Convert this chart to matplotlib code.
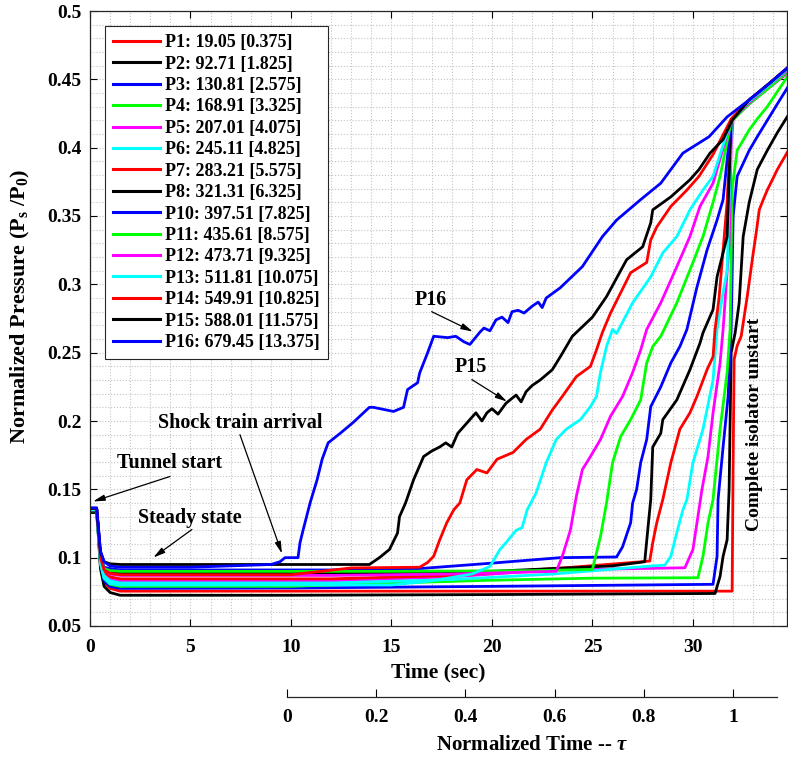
import matplotlib
matplotlib.use("Agg")
import matplotlib.pyplot as plt
from matplotlib.ticker import MultipleLocator

# Fonts: bold Times-like text everywhere, Times-like maths for the sub/greek bits
plt.rcParams['font.family'] = ['Liberation Serif', 'DejaVu Serif']
plt.rcParams['font.weight'] = 'bold'
plt.rcParams['axes.labelweight'] = 'bold'
plt.rcParams['mathtext.fontset'] = 'custom'
plt.rcParams['mathtext.rm'] = 'Liberation Serif'
plt.rcParams['mathtext.bf'] = 'Liberation Serif:bold'
plt.rcParams['mathtext.it'] = 'Liberation Serif:italic'

# ---- sensor traces: time (s) and normalized pressure Ps/P0 ----
labels = ["P1: 19.05 [0.375]", "P2: 92.71 [1.825]", "P3: 130.81 [2.575]",
          "P4: 168.91 [3.325]", "P5: 207.01 [4.075]", "P6: 245.11 [4.825]",
          "P7: 283.21 [5.575]", "P8: 321.31 [6.325]", "P10: 397.51 [7.825]",
          "P11: 435.61 [8.575]", "P12: 473.71 [9.325]", "P13: 511.81 [10.075]",
          "P14: 549.91 [10.825]", "P15: 588.01 [11.575]", "P16: 679.45 [13.375]"]
colors = ['#ff0000', '#000000', '#0000ff', '#00ff00', '#ff00ff', '#00ffff',
          '#ff0000', '#000000', '#0000ff', '#00ff00', '#ff00ff', '#00ffff',
          '#ff0000', '#000000', '#0000ff']

t_p1 = [0, 0.33, 0.42, 0.52, 0.7, 1.0, 1.5, 31.95, 32.0, 32.05, 32.2, 32.4, 32.7,
        33.0, 33.15, 33.3, 33.5, 33.7, 34.2, 34.75]
p_p1 = [0.135, 0.135, 0.118, 0.095, 0.082, 0.0775, 0.0755, 0.0755, 0.17, 0.245, 0.255,
        0.262, 0.291, 0.323, 0.338, 0.3545, 0.362, 0.369, 0.384, 0.398]

t_p2 = [0, 0.33, 0.42, 0.52, 0.7, 1.0, 1.5, 10, 20, 31.1, 31.35, 31.5, 31.7, 31.8,
        31.9, 32.1, 32.3, 32.5, 32.8, 33.2, 33.7, 34.2, 34.75]
p_p2 = [0.133, 0.133, 0.115, 0.092, 0.079, 0.0745, 0.0725, 0.0725, 0.073, 0.0738,
        0.0863, 0.101, 0.113, 0.15, 0.25, 0.2645, 0.2865, 0.335, 0.36, 0.384, 0.398,
        0.411, 0.424]

t_p3 = [0, 0.33, 0.42, 0.52, 0.7, 1.0, 1.5, 10, 20, 31.0, 31.2, 31.25, 31.5, 31.75,
        31.9, 32.0, 32.2, 32.8, 33.2, 33.7, 34.2, 34.75]
p_p3 = [0.135, 0.135, 0.117, 0.095, 0.083, 0.079, 0.0775, 0.0778, 0.079, 0.0805,
        0.101, 0.1425, 0.181, 0.218, 0.267, 0.35, 0.379, 0.398, 0.408, 0.42, 0.432,
        0.445]

t_p4 = [0, 0.33, 0.42, 0.52, 0.7, 1.0, 1.5, 10, 14, 20, 25, 30.25, 30.5, 30.75, 31.0,
        31.35, 31.7, 31.85, 31.95, 32.2, 32.8, 33.2, 33.7, 34.2, 34.75]
p_p4 = [0.134, 0.134, 0.117, 0.096, 0.085, 0.0805, 0.079, 0.079, 0.081, 0.0835, 0.085,
        0.0853, 0.101, 0.1255, 0.1425, 0.194, 0.2355, 0.267, 0.37, 0.398, 0.413, 0.421,
        0.43, 0.441, 0.453]

t_p5 = [0, 0.33, 0.42, 0.52, 0.7, 1.0, 1.5, 12, 18, 23, 29.6, 30.0, 30.2, 30.45,
        30.75, 31.0, 31.35, 31.5, 31.8, 31.9, 32.0, 32.8, 33.8, 34.75]
p_p5 = [0.135, 0.135, 0.119, 0.099, 0.088, 0.0845, 0.083, 0.083, 0.086, 0.091, 0.0926,
        0.106, 0.1255, 0.15, 0.174, 0.206, 0.2425, 0.267, 0.33, 0.40, 0.421, 0.432,
        0.444, 0.455]

t_p6 = [0, 0.33, 0.42, 0.52, 0.7, 1.0, 1.5, 12, 18, 23, 28.0, 28.6, 28.9, 29.2, 29.5,
        29.7, 30.0, 30.5, 31.0, 31.2, 31.45, 31.7, 31.9, 31.95, 32.8, 33.8, 34.75]
p_p6 = [0.135, 0.135, 0.119, 0.098, 0.087, 0.083, 0.0815, 0.0815, 0.084, 0.088, 0.094,
        0.0945, 0.101, 0.1185, 0.135, 0.1425, 0.1695, 0.194, 0.23, 0.267, 0.29, 0.31,
        0.41, 0.42, 0.433, 0.445, 0.457]

t_p7 = [0, 0.33, 0.42, 0.52, 0.7, 1.0, 1.5, 12, 18, 24, 27.85, 28.0, 28.2, 28.5, 28.9,
        29.35, 29.85, 30.2, 30.7, 31.0, 31.1, 31.3, 31.7, 31.9, 32.8, 33.8, 34.75]
p_p7 = [0.136, 0.136, 0.12, 0.1, 0.09, 0.086, 0.0845, 0.0845, 0.087, 0.093, 0.0975,
        0.111, 0.1255, 0.1425, 0.1695, 0.194, 0.206, 0.218, 0.2375, 0.247, 0.267,
        0.29, 0.36, 0.42, 0.434, 0.446, 0.458]

t_p8 = [0, 0.33, 0.42, 0.52, 0.7, 1.0, 1.5, 12, 20, 26, 27.6, 27.75, 27.9, 28.0, 28.4,
        28.5, 29.2, 29.85, 30.35, 30.5, 31.0, 31.2, 31.7, 31.9, 32.8, 33.8, 34.75]
p_p8 = [0.134, 0.134, 0.119, 0.1, 0.091, 0.0895, 0.0885, 0.0885, 0.09, 0.094, 0.097,
        0.12, 0.1425, 0.181, 0.191, 0.201, 0.2155, 0.2375, 0.257, 0.2645, 0.2815,
        0.3055, 0.335, 0.42, 0.434, 0.447, 0.458]

t_p10 = [0, 0.33, 0.42, 0.52, 0.7, 1.0, 1.5, 12, 16.4, 20, 23.4, 26.2, 26.5, 26.9,
         27.0, 27.2, 27.4, 27.7, 27.9, 28.4, 28.9, 29.35, 29.7, 30.2, 30.7, 31.2,
         31.5, 31.9, 32.8, 33.8, 34.75]
p_p10 = [0.136, 0.136, 0.12, 0.101, 0.093, 0.092, 0.091, 0.091, 0.092, 0.096, 0.1,
         0.1005, 0.108, 0.1255, 0.14, 0.15, 0.1695, 0.1865, 0.2105, 0.225, 0.2425,
         0.2545, 0.267, 0.298, 0.325, 0.347, 0.362, 0.42, 0.433, 0.445, 0.457]

t_p11 = [0, 0.33, 0.42, 0.52, 0.7, 1.0, 1.5, 15, 22, 25.0, 25.4, 25.7, 26.0, 26.4,
         26.9, 27.4, 27.7, 28.0, 28.4, 29.2, 30.0, 30.5, 31.0, 31.35, 31.9, 32.8,
         33.8, 34.75]
p_p11 = [0.135, 0.135, 0.12, 0.1, 0.092, 0.0905, 0.09, 0.09, 0.0905, 0.0914, 0.1155,
         0.14, 0.1695, 0.1885, 0.201, 0.2155, 0.2425, 0.2545, 0.262, 0.2865, 0.316,
         0.335, 0.36, 0.379, 0.419, 0.432, 0.444, 0.456]

t_p12 = [0, 0.33, 0.42, 0.52, 0.7, 1.0, 1.5, 12, 18, 23.2, 23.5, 23.9, 24.2, 24.5,
         24.9, 25.4, 25.9, 26.5, 27.0, 27.4, 27.7, 28.4, 29.2, 29.85, 30.35, 31.0,
         31.9, 32.8, 33.8, 34.75]
p_p12 = [0.135, 0.135, 0.12, 0.1, 0.091, 0.088, 0.087, 0.087, 0.088, 0.09, 0.101,
         0.12, 0.145, 0.1645, 0.174, 0.1865, 0.2035, 0.218, 0.2355, 0.252, 0.267,
         0.2865, 0.313, 0.335, 0.357, 0.374, 0.42, 0.433, 0.446, 0.457]

t_p13 = [0, 0.33, 0.42, 0.52, 0.7, 1.0, 1.5, 15, 17, 19, 19.9, 20.4, 20.7, 21.2, 21.5,
         21.75, 22.2, 22.7, 23.2, 23.7, 24.4, 24.9, 25.2, 25.4, 25.7, 26.0, 26.2,
         27.0, 27.9, 28.5, 29.2, 29.85, 30.5, 31.0, 31.9, 32.8, 33.8, 34.75]
p_p13 = [0.135, 0.135, 0.117, 0.096, 0.085, 0.081, 0.08, 0.08, 0.083, 0.088, 0.0936,
         0.106, 0.111, 0.12, 0.122, 0.135, 0.1475, 0.1695, 0.1865, 0.194, 0.201,
         0.2105, 0.218, 0.2355, 0.2545, 0.267, 0.264, 0.2865, 0.3055, 0.323, 0.335,
         0.3545, 0.369, 0.379, 0.42, 0.434, 0.446, 0.458]

t_p14 = [0, 0.33, 0.42, 0.52, 0.7, 1.0, 1.5, 10, 11.5, 13, 16.4, 16.8, 17.1, 17.4,
         17.75, 18.1, 18.4, 18.75, 19.25, 19.75, 20.25, 21.05, 21.7, 22.4, 23.0, 23.5,
         24.2, 24.9, 25.2, 25.5, 25.9, 26.9, 27.7, 27.9, 28.2, 28.9, 29.7, 30.3, 31.0,
         31.9, 32.8, 33.8, 34.75]
p_p14 = [0.136, 0.136, 0.12, 0.1, 0.091, 0.0885, 0.0875, 0.0875, 0.09, 0.0925, 0.093,
         0.0965, 0.101, 0.113, 0.1255, 0.135, 0.14, 0.157, 0.1645, 0.162, 0.172, 0.177,
         0.1865, 0.194, 0.208, 0.218, 0.2325, 0.24, 0.252, 0.265, 0.279, 0.3085, 0.316,
         0.3325, 0.342, 0.357, 0.369, 0.379, 0.395, 0.421, 0.435, 0.447, 0.459]

t_p15 = [0, 0.33, 0.42, 0.52, 0.7, 1.0, 1.5, 13.9, 14.4, 14.9, 15.3, 15.4, 15.7, 16.1,
         16.6, 17.0, 17.4, 17.7, 18.0, 18.3, 18.9, 19.2, 19.5, 19.75, 20.0, 20.3, 20.7,
         21.2, 21.45, 21.7, 22.0, 22.4, 23.0, 23.4, 24.0, 25.0, 25.7, 26.7, 27.5, 27.9,
         28.0, 28.9, 29.85, 30.3, 30.85, 31.5, 31.95, 32.8, 33.8, 34.75]
p_p15 = [0.136, 0.136, 0.121, 0.104, 0.097, 0.0955, 0.095, 0.095, 0.1, 0.106, 0.118,
         0.13, 0.14, 0.157, 0.174, 0.178, 0.181, 0.184, 0.181, 0.191, 0.201, 0.206,
         0.2, 0.206, 0.209, 0.205, 0.213, 0.219, 0.214, 0.2215, 0.226, 0.23, 0.2375,
         0.247, 0.262, 0.276, 0.291, 0.318, 0.3275, 0.345, 0.3545, 0.364, 0.3765,
         0.384, 0.396, 0.406, 0.42, 0.435, 0.447, 0.459]

t_p16 = [0, 0.33, 0.42, 0.52, 0.7, 1.0, 1.5, 5, 9.0, 9.45, 9.7, 10.35, 10.45, 10.6,
         10.95, 11.3, 11.55, 11.85, 12.45, 13.1, 13.9, 14.1, 15.1, 15.6, 15.8, 16.3,
         16.4, 16.8, 17.1, 17.8, 18.2, 18.6, 18.9, 19.4, 19.6, 19.9, 20.2, 20.5, 20.8,
         21.0, 21.3, 21.6, 22.0, 22.3, 22.5, 22.7, 23.4, 24.5, 25.5, 26.2, 27.4, 28.4,
         28.9, 29.5, 30.8, 31.7, 32.8, 33.8, 34.75]
p_p16 = [0.1365, 0.1365, 0.122, 0.105, 0.097, 0.094, 0.093, 0.093, 0.095, 0.097, 0.1,
         0.1, 0.111, 0.12, 0.14, 0.157, 0.172, 0.184, 0.191, 0.199, 0.21, 0.21, 0.207,
         0.21, 0.223, 0.228, 0.235, 0.25, 0.262, 0.261, 0.262, 0.258, 0.256, 0.265,
         0.268, 0.266, 0.274, 0.276, 0.272, 0.28, 0.281, 0.279, 0.284, 0.287, 0.283,
         0.29, 0.2975, 0.313, 0.335, 0.347, 0.362, 0.374, 0.384, 0.396, 0.408, 0.4225,
         0.435, 0.447, 0.459]

times = [t_p1, t_p2, t_p3, t_p4, t_p5, t_p6, t_p7, t_p8, t_p10, t_p11, t_p12, t_p13,
         t_p14, t_p15, t_p16]
pressures = [p_p1, p_p2, p_p3, p_p4, p_p5, p_p6, p_p7, p_p8, p_p10, p_p11, p_p12,
             p_p13, p_p14, p_p15, p_p16]

# normalized time axis: tau = 0 at 9.8 s, tau = 1 at 31.99 s
tau_start = 9.8
tau_end = 31.99
tau_ticks = [0, 0.2, 0.4, 0.6, 0.8, 1]

# ---- figure ----
fig = plt.figure(figsize=(7.88, 7.57), dpi=100)
ax = fig.add_axes([90 / 788, 131 / 757, 697 / 788, 615 / 757])

for t, p, c, lab in zip(times, pressures, colors, labels):
    ax.plot(t, p, color=c, linewidth=2.0, label=lab)

ax.set_xlim(0, 34.68)
ax.set_ylim(0.05, 0.5)
ax.xaxis.set_major_locator(MultipleLocator(5))
ax.xaxis.set_minor_locator(MultipleLocator(1))
ax.yaxis.set_minor_locator(MultipleLocator(0.01))
ax.set_yticks([0.05, 0.1, 0.15, 0.2, 0.25, 0.3, 0.35, 0.4, 0.45, 0.5])
ax.set_yticklabels(['0.05', '0.1', '0.15', '0.2', '0.25', '0.3', '0.35', '0.4', '0.45', '0.5'])
ax.grid(which='both', linestyle=':', color='#c4c4c4', linewidth=0.8)
ax.tick_params(which='major', direction='in', top=True, right=True, length=5,
               width=0.8, labelsize=14)
ax.tick_params(axis='x', pad=9)
ax.tick_params(axis='y', pad=6)
ax.tick_params(which='minor', length=0)
for s in ax.spines.values():
    s.set_color('#262626')
    s.set_linewidth(0.9)

ax.set_xlabel('Time (sec)', fontsize=15.5, labelpad=5)
ax.set_ylabel('Normalized Pressure (P$_\\mathbf{s}$ /P$_\\mathbf{0}$)', fontsize=16)
ax.yaxis.set_label_coords(-0.083, 0.52)

leg = ax.legend(loc='upper left', bbox_to_anchor=(0.0215, 0.9756), borderaxespad=0,
                fontsize=13, handlelength=2.6, handletextpad=0.3, labelspacing=0.245,
                borderpad=0.45, fancybox=False, framealpha=1, edgecolor='#262626')
leg.get_frame().set_linewidth(0.8)
for line in leg.get_lines():
    line.set_linewidth(2.2)

# ---- annotations ----
arrow = dict(arrowstyle='-|>,head_length=0.7,head_width=0.18', color='k', lw=0.9,
             shrinkA=0, shrinkB=0)
ax.text(3.98, 0.1696, 'Tunnel start', fontsize=14.5, ha='center', va='center')
ax.annotate('', xy=(0.15, 0.1411), xytext=(3.98, 0.1594), arrowprops=arrow)
ax.text(4.98, 0.1287, 'Steady state', fontsize=14.5, ha='center', va='center')
ax.annotate('', xy=(3.15, 0.1001), xytext=(5.07, 0.1206), arrowprops=arrow)
ax.text(7.46, 0.1988, 'Shock train arrival', fontsize=14.5, ha='center', va='center')
ax.annotate('', xy=(9.55, 0.103), xytext=(7.46, 0.19), arrowprops=arrow)
ax.text(16.96, 0.2887, 'P16', fontsize=14.5, ha='center', va='center')
ax.annotate('', xy=(19.05, 0.2654), xytext=(17.0, 0.28), arrowprops=arrow)
ax.text(18.96, 0.2398, 'P15', fontsize=14.5, ha='center', va='center')
ax.annotate('', xy=(20.75, 0.2142), xytext=(19.0, 0.2303), arrowprops=arrow)
ax.text(33.08, 0.1974, 'Complete isolator unstart', fontsize=14, rotation=90,
        ha='center', va='center')

# ---- normalized time axis underneath ----
tau_right = (34.2 - tau_start) / (tau_end - tau_start)
left_px = 90 + tau_start / 34.68 * 697
width_px = (34.2 - tau_start) / 34.68 * 697
ax2 = fig.add_axes([left_px / 788, 60 / 757, width_px / 788, 0.0001])
ax2.set_xlim(0, tau_right)
ax2.set_xticks(tau_ticks)
ax2.set_xticklabels(['0', '0.2', '0.4', '0.6', '0.8', '1'])
ax2.set_yticks([])
for side in ['top', 'left', 'right']:
    ax2.spines[side].set_visible(False)
ax2.spines['bottom'].set_color('#262626')
ax2.spines['bottom'].set_linewidth(0.9)
ax2.patch.set_alpha(0)
# ticks stand up from the line
ax2.tick_params(axis='x', direction='in', length=6, width=0.8, labelsize=14, pad=9)
ax2.set_xlabel('Normalized Time -- $\\tau$', fontsize=15, labelpad=6)

fig.savefig('out.png', dpi=100)
